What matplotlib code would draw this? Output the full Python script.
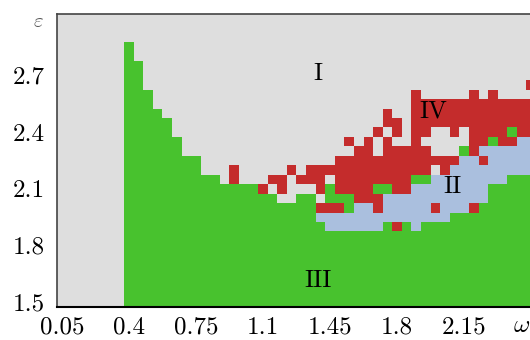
import numpy as np
import matplotlib
matplotlib.use("Agg")
import matplotlib.pyplot as plt
from matplotlib.colors import ListedColormap

plt.rcParams["font.family"] = "serif"
plt.rcParams["font.serif"] = ["cmr10"]
plt.rcParams["mathtext.fontset"] = "cm"
plt.rcParams["axes.unicode_minus"] = False

# grid of regimes: 1 = I, 2 = II, 3 = III, 4 = IV
# omega = 0.05 ... 2.5 (columns), eps rows listed from 3.0 down to 1.5
omega = np.round(np.arange(1, 51) * 0.05, 2)
eps = np.round(1.5 + np.arange(31) * 0.05, 2)
phase_rows = [
    "1111111111 1111111111 1111111111 1111111111 1111111111",  # 3.00
    "1111111111 1111111111 1111111111 1111111111 1111111111",  # 2.95
    "1111111111 1111111111 1111111111 1111111111 1111111111",  # 2.90
    "1111111311 1111111111 1111111111 1111111111 1111111111",  # 2.85
    "1111111311 1111111111 1111111111 1111111111 1111111111",  # 2.80
    "1111111331 1111111111 1111111111 1111111111 1111111111",  # 2.75
    "1111111331 1111111111 1111111111 1111111111 1111111111",  # 2.70
    "1111111331 1111111111 1111111111 1111111111 1111111114",  # 2.65
    "1111111333 1111111111 1111111111 1111111411 1114141111",  # 2.60
    "1111111333 1111111111 1111111111 1111111444 4444444444",  # 2.55
    "1111111333 3111111111 1111111111 1111411444 4444444444",  # 2.50
    "1111111333 3311111111 1111111111 1111441444 4444444444",  # 2.45
    "1111111333 3311111111 1111111111 1114141441 1414444344",  # 2.40
    "1111111333 3331111111 1111111111 4141411411 1114434422",  # 2.35
    "1111111333 3331111111 1111111111 1441444441 1134222222",  # 2.30
    "1111111333 3333311111 1111111114 4444444444 4422422222",  # 2.25
    "1111111333 3333311141 1111414444 4444444441 4222222222",  # 2.20
    "1111111333 3333333141 1144144414 4444444332 2222222333",  # 2.15
    "1111111333 3333333333 3414111434 4443344222 2222233333",  # 2.10
    "1111111333 3333333333 3331133133 3444222222 2222233333",  # 2.05
    "1111111333 3333333333 3333333444 3224222224 2224333333",  # 2.00
    "1111111333 3333333333 3333333222 2222222222 2333333333",  # 1.95
    "1111111333 3333333333 3333333322 2222343233 3333333333",  # 1.90
    "1111111333 3333333333 3333333333 3333333333 3333333333",  # 1.85
    "1111111333 3333333333 3333333333 3333333333 3333333333",  # 1.80
    "1111111333 3333333333 3333333333 3333333333 3333333333",  # 1.75
    "1111111333 3333333333 3333333333 3333333333 3333333333",  # 1.70
    "1111111333 3333333333 3333333333 3333333333 3333333333",  # 1.65
    "1111111333 3333333333 3333333333 3333333333 3333333333",  # 1.60
    "1111111333 3333333333 3333333333 3333333333 3333333333",  # 1.55
    "1111111333 3333333333 3333333333 3333333333 3333333333",  # 1.50
]
region_names = ["I", "II", "III", "IV"]
region_colors = ["#dedede", "#aabfde", "#48c22e", "#c42c2c"]
label_pos = {"I": (1.39, 2.71), "IV": (1.99, 2.51), "II": (2.09, 2.11), "III": (1.39, 1.61)}

xticks = [0.05, 0.4, 0.75, 1.1, 1.45, 1.8, 2.15]
yticks = [1.5, 1.8, 2.1, 2.4, 2.7]

grid = np.array([[int(ch) for ch in "".join(r.split())] for r in phase_rows])[::-1]

fig = plt.figure(figsize=(5.3, 3.4), dpi=100)
ax = fig.add_axes([57 / 530, 33.3 / 340, 478.5 / 530, 292.7 / 340])

dw, de = 0.025, 0.025
ax.imshow(grid, cmap=ListedColormap(region_colors), vmin=0.5, vmax=4.5,
          origin="lower", aspect="auto", interpolation="nearest",
          extent=[omega[0] - dw, omega[-1] + dw, eps[0] - de, eps[-1] + de])

for name, (x, y) in label_pos.items():
    ax.text(x, y, name, fontsize=18, ha="center", va="center")

ax.set_xticks(xticks)
ax.set_xticklabels([f"{t:g}" for t in xticks])
ax.set_yticks(yticks)
ax.set_yticklabels([f"{t:g}" for t in yticks])
ax.tick_params(length=0, labelsize=18)
ax.tick_params(axis="x", pad=7)
ax.tick_params(axis="y", pad=9)

for side in ["left", "top"]:
    ax.spines[side].set_color("#444444")
    ax.spines[side].set_linewidth(1.2)
ax.spines["bottom"].set_color("black")
ax.spines["bottom"].set_linewidth(1.5)
ax.spines["right"].set_visible(False)

fig.text(38 / 530, 1 - 22 / 340, r"$\varepsilon$", fontsize=15, color="#555555",
         ha="center", va="center")
fig.text(522 / 530, 1 - 326 / 340, r"$\omega$", fontsize=18, ha="center", va="center")

fig.savefig("out.png", dpi=100)
